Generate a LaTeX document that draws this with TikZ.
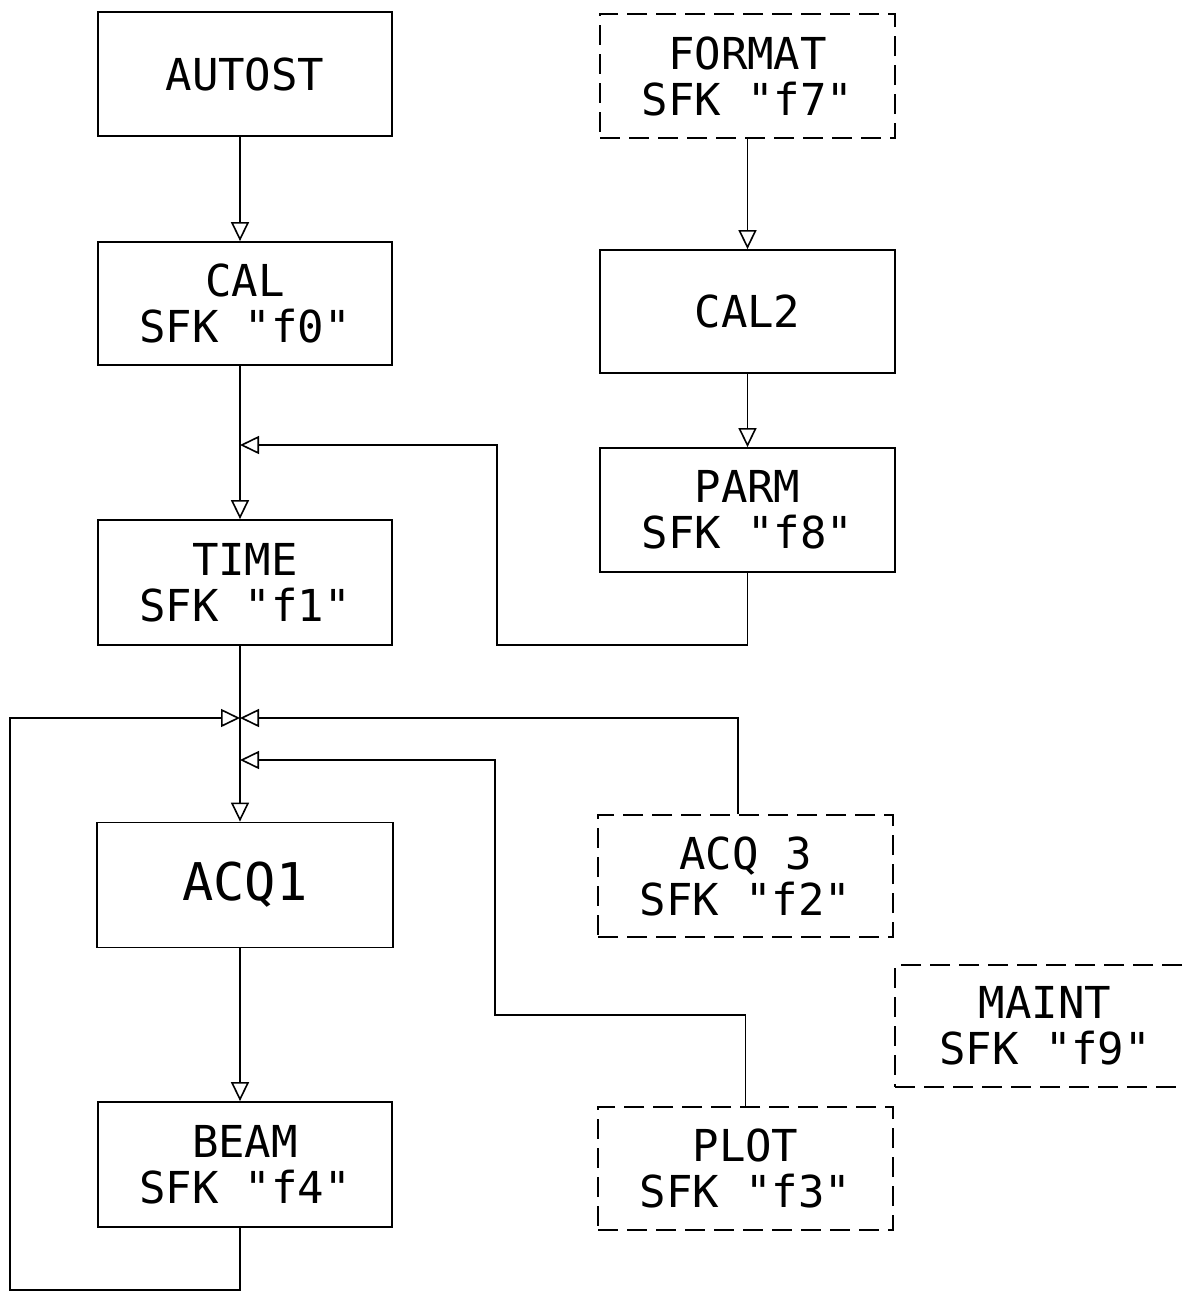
\documentclass[tikz,border=0pt]{standalone}
\usepackage{fontspec}
\newfontfamily\plotfont{DejaVu Sans Mono}[Ligatures=ResetAll]
\usetikzlibrary{arrows.meta}
\tikzset{
  box/.style={draw, line width=1.8pt, minimum width=294pt, minimum height=124pt, align=center,
    inner sep=0pt, font=\plotfont\fontsize{44}{46}\selectfont},
  dbox/.style={box, dash pattern=on 20pt off 9pt},
  arr/.style={line width=1.6pt, -{Triangle[open, length=19pt, width=18pt, line width=1.6pt]}},
}
\begin{document}
\begin{tikzpicture}[x=1pt, y=-1pt]
\useasboundingbox (0,0) rectangle (1185,1299);
\coordinate (spine) at (240,0);
% left column
\node[box] (autost) at (245,74) {AUTOST};
\node[box, minimum height=123pt] (cal) at (245,303.5) {CAL\\SFK "f0"};
\node[box, minimum height=125pt] (time) at (245,582.5) {TIME\\SFK "f1"};
\node[box, minimum width=296pt, minimum height=125pt, font=\plotfont\fontsize{52}{54}\selectfont] (acq1) at (245,885) {ACQ1};
\node[box, minimum height=125pt] (beam) at (245,1164.5) {BEAM\\SFK "f4"};
% right column
\node[dbox, minimum width=295pt] (format) at (747.5,76) {FORMAT\\SFK "f7"};
\node[box, minimum width=295pt, minimum height=123pt] (cal2) at (747.5,311.5) {CAL2};
\node[box, minimum width=295pt] (parm) at (747.5,510) {PARM\\SFK "f8"};
\node[dbox, minimum width=295pt, minimum height=122pt] (acq3) at (745.5,876) {ACQ 3\\SFK "f2"};
\node[dbox, minimum width=300pt, minimum height=122pt] (maint) at (1045,1026) {MAINT\\SFK "f9"};
\node[dbox, minimum width=295pt, minimum height=123pt] (plot) at (745.5,1168.5) {PLOT\\SFK "f3"};
% junctions
\coordinate (j1) at (240,445);
\coordinate (j2) at (240,718);
\coordinate (j3) at (240,760);
% connectors
\draw[arr] (autost.south -| spine) -- (cal.north -| spine);
\draw[arr] (cal.south -| spine) -- (time.north -| spine);
\draw[arr] (time.south -| spine) -- (acq1.north -| spine);
\draw[arr] (acq1.south -| spine) -- (beam.north -| spine);
\draw[arr] (format.south) -- (cal2.north);
\draw[arr] (cal2.south) -- (parm.north);
\draw[arr] (parm.south) |- (497,645) |- (j1);
\draw[arr] (beam.south -| spine) -- (240,1290) -| (10,718) -- (j2);
\draw[arr] ([xshift=-7.5pt]acq3.north) |- (j2);
\draw[arr] (plot.north) |- (495,1015) |- (j3);
\end{tikzpicture}
\end{document}
